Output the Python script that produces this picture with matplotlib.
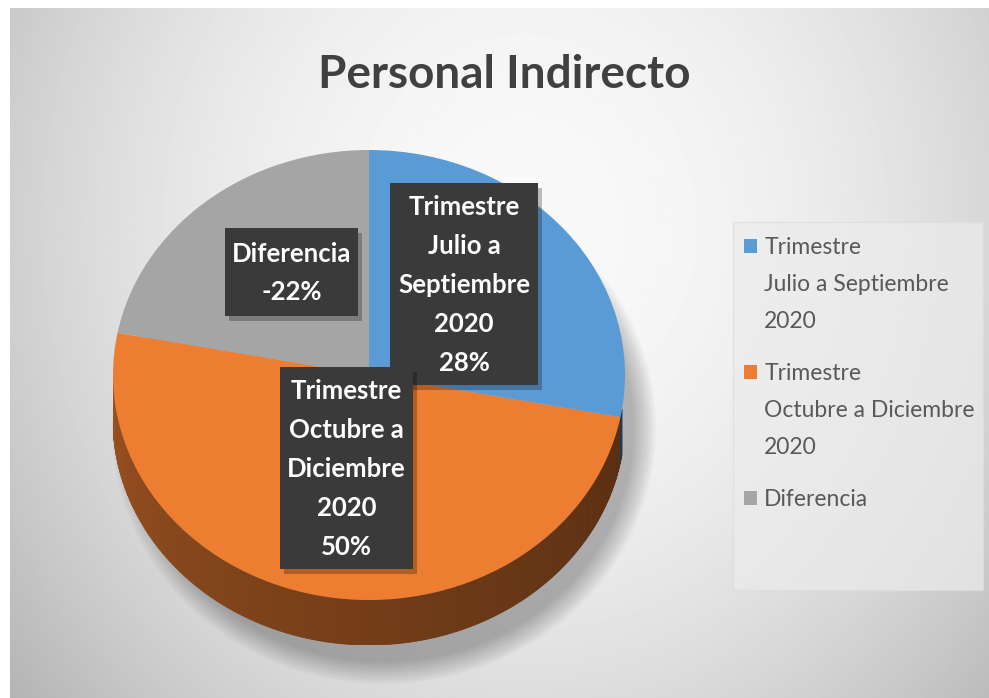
import numpy as np
import matplotlib.pyplot as plt
from matplotlib.colors import to_rgb
from matplotlib.patches import Rectangle, Polygon, Ellipse

plt.rcParams['font.family'] = ['Lato', 'DejaVu Sans']

# datos del grafico
categorias = ["Trimestre\nJulio a Septiembre\n2020",
              "Trimestre\nOctubre a Diciembre\n2020",
              "Diferencia"]
etiquetas = ["Trimestre\nJulio a\nSeptiembre\n2020",
             "Trimestre\nOctubre a\nDiciembre\n2020",
             "Diferencia"]
porciones = [28, 50, 22]      # tamano de cada porcion
porcentajes = [28, 50, -22]   # valor que se imprime
colores = ['#5B9BD5', '#ED7D31', '#A5A5A5']

W, H = 989, 698
fig = plt.figure(figsize=(W / 100, H / 100), dpi=100)

# ------------------------------ fondo con degradado ------------------------------
bg = fig.add_axes([0, 0, 1, 1])
yy, xx = np.mgrid[0:H, 0:W]
sombra = 0.975 - 0.15 * ((xx - 520) / 500) ** 2 - 0.12 * ((yy - 220) / 500) ** 2
bg.imshow(sombra, cmap='gray', vmin=0, vmax=1, extent=[10, W, H, 8], zorder=0)
bg.set_aspect('auto')
bg.set_xlim(0, W)
bg.set_ylim(H, 0)
bg.axis('off')

# sombra suave debajo del pastel
for k in range(12):
    bg.add_patch(Ellipse((384, 428), 2 * (250 + 2 * k), 2 * (234 + 2 * k),
                         facecolor='black', alpha=0.025, lw=0, zorder=1))

# ------------------------------ pastel 3D ------------------------------
rx, ry, prof = 256, 225, 45
d = prof / ry
ax = fig.add_axes([113 / W, (H - 645) / H, 2 * rx / W, (2 * ry + prof) / H])
ax.patch.set_visible(False)

# limites de cada porcion (sentido horario desde las 12)
acum = np.concatenate([[0], np.cumsum(porciones)]) / sum(porciones) * 360
inicio = 90 - acum[:-1]
fin = 90 - acum[1:]


def porcion_de(theta):
    for i in range(len(porciones)):
        if (theta - fin[i]) % 360 <= (inicio[i] - fin[i]):
            return i
    return 0


# costado visible del pastel
thetas = np.linspace(-180, fin[0] + 2, 340)
for a, b in zip(thetas[:-1], thetas[1:]):
    i = porcion_de((a + b) / 2)
    f = 0.66 - 0.30 * ((a + 180) / 180) ** 0.8
    c = np.array(to_rgb(colores[i])) * f
    ra, rb = np.radians(a), np.radians(b)
    pts = [(np.cos(ra), np.sin(ra)), (np.cos(rb), np.sin(rb)),
           (np.cos(rb), np.sin(rb) - d), (np.cos(ra), np.sin(ra) - d)]
    ax.add_patch(Polygon(pts, closed=True, facecolor=c, edgecolor=c, lw=0.6, zorder=1))

wedges, _ = ax.pie(porciones, colors=colores, startangle=90, counterclock=False,
                   radius=1, wedgeprops=dict(linewidth=0, zorder=2))
ax.set_aspect('auto')
ax.set_xlim(-1, 1)
ax.set_ylim(-1 - d, 1)
ax.axis('off')

# ------------------------------ textos ------------------------------
top = fig.add_axes([0, 0, 1, 1])
top.patch.set_visible(False)
top.set_xlim(0, W)
top.set_ylim(H, 0)
top.axis('off')

top.text(504, 75, 'Personal Indirecto', ha='center', va='center',
         fontsize=33, fontweight='bold', color='#404040')

cajas = [(390, 183, 148, 202), (280, 367, 133, 202), (225, 228, 133, 88)]
for (x, y, w, h), txt, p in zip(cajas, etiquetas, porcentajes):
    top.add_patch(Rectangle((x + 4, y + 5), w, h, facecolor='black', alpha=0.25, lw=0))
    top.add_patch(Rectangle((x, y), w, h, facecolor='#3a3a3a', lw=0))
    top.text(x + w / 2, y + h / 2 + 1, f"{txt}\n{p}%", ha='center', va='center',
             fontsize=18.5, fontweight='bold', color='white', linespacing=1.75)

# leyenda
top.add_patch(Rectangle((733, 222), 250, 368, facecolor='#ececec', alpha=0.7,
                        edgecolor='#dddddd', lw=1))
leg = fig.legend(wedges, categorias, loc='upper left',
                 bbox_to_anchor=(723 / W, 1 - 216 / H), frameon=False,
                 fontsize=16.5, handlelength=0.6, handleheight=0.6,
                 handletextpad=0.3, labelspacing=1.35, labelcolor='#595959')
for t in leg.get_texts():
    t.set_linespacing(1.95)
for h in leg.legend_handles[:2]:
    h.set_y(h.get_y() + 28)

fig.savefig('out.png', dpi=100)
